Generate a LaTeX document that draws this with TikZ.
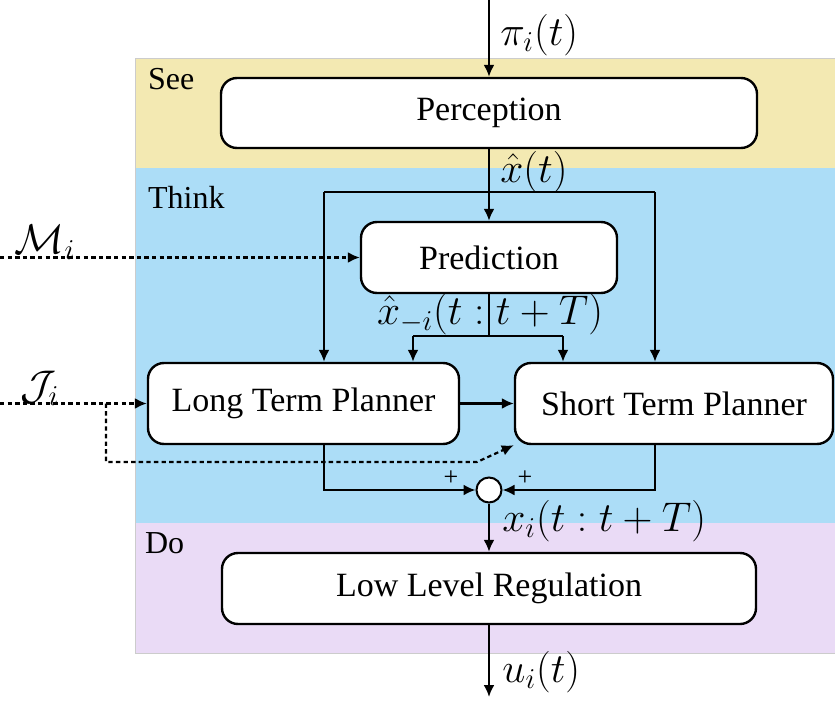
\documentclass[tikz,border=0pt]{standalone}
\usepackage{amsmath}
\usepackage[no-math]{fontspec}
\setmainfont{Liberation Serif}
\usetikzlibrary{arrows.meta, positioning}
\definecolor{seecol}{RGB}{243,233,178}
\definecolor{thinkcol}{RGB}{172,221,247}
\definecolor{docol}{RGB}{234,219,246}
\tikzstyle{block} = [draw=black, fill=white, rounded corners=8pt, line width=1.2pt, inner sep=0,
                     font=\fontsize{17}{20}\selectfont]
\tikzstyle{summer} = [circle, draw=black, fill=white, line width=1pt, minimum size=12.5pt, inner sep=0]
\tikzstyle{wire} = [line width=1.1pt]
\tikzstyle{sig} = [line width=1.1pt, -{Latex[length=6pt,width=5.5pt]}]
\tikzstyle{dots} = [line width=1.1pt, dash pattern=on 2.2pt off 1.6pt, -{Latex[length=6pt,width=5.5pt]}]
\tikzstyle{lab} = [inner sep=1pt, font=\fontsize{20}{24}\selectfont]
\tikzstyle{zone} = [anchor=west, font=\fontsize{16}{19}\selectfont]

\begin{document}
\begin{tikzpicture}[x=0.5pt, y=-0.5pt]
				\useasboundingbox (0, 0) rectangle (835, 701);

				% the three layers
				\fill [seecol] (135, 58) rectangle (835, 168);
				\fill [thinkcol] (135, 168) rectangle (835, 523);
				\fill [docol] (135, 523) rectangle (835, 653);
				\draw [gray!40, line width=0.4pt] (835, 58) -- (135, 58) -- (135, 653) -- (835, 653);
				\node (See) [zone] at (141, 79) {See};
				\node (Think) [zone] at (141, 197) {Think};
				\node (Do) [zone] at (138, 543) {Do};

				% see
				\coordinate (In) at (489, 0);
				\node (Perc) [block, minimum width=268pt, minimum height=35pt] at (489, 113) {Perception};
				\draw [sig] (In) -- (Perc);
				\node (PiLab) [lab, anchor=west] at (498, 35) {$\pi_i(t)$};

				% think
				\node (Pred) [block, minimum width=128pt, minimum height=35.5pt] at (489, 257.5) {Prediction};
				\draw [sig] (Perc) -- (Pred);
				\node (XLab) [lab, anchor=west] at (498, 172) {$\hat{x}(t)$};

				\coordinate (SplitL) at (324, 192);
				\coordinate (SplitR) at (655, 192);
				\draw [wire] (SplitL) -- (SplitR);

				\coordinate (MIn) at (0, 257.5);
				\draw [dots] (MIn) -- (Pred.west);
				\node (MLab) [lab] at (45, 242) {$\mathcal{M}_i$};

				\node (LTP) [block, minimum width=155.5pt, minimum height=40.5pt] at (303.5, 403.5) {Long Term Planner};
				\node (STP) [block, minimum width=159pt, minimum height=40.5pt] at (674, 403.5) {Short Term Planner};
				\draw [sig] (SplitL) -- (SplitL |- LTP.north);
				\draw [sig] (SplitR) -- (SplitR |- STP.north);

				\coordinate (Branch) at (489, 336);
				\coordinate (BranchL) at (413, 336);
				\coordinate (BranchR) at (563, 336);
				\draw [wire] (Pred) -- (Branch);
				\draw [wire] (BranchL) -- (BranchR);
				\draw [sig] (BranchL) -- (BranchL |- LTP.north);
				\draw [sig] (BranchR) -- (BranchR |- STP.north);
				\node (XmLab) [lab] at (490, 314) {$\hat{x}_{-i}(t:t+T)$};

				\draw [sig] (LTP) -- (STP);

				\coordinate (JIn) at (0, 403.5);
				\coordinate (JSplit) at (106, 403.5);
				\coordinate (JBend) at (477, 462);
				\draw [dots] (JIn) -- (LTP.west);
				\draw [dots] (JSplit) |- (JBend) -- (STP.south west);
				\node (JLab) [lab] at (40, 388) {$\mathcal{J}_i$};

				\node (Sum) [summer] at (489, 490) {};
				\draw [sig] (SplitL |- LTP.south) |- (Sum.west);
				\draw [sig] (SplitR |- STP.south) |- (Sum.east);
				\node (PlusL) [font=\fontsize{13}{15}\selectfont] at (451, 478) {+};
				\node (PlusR) [font=\fontsize{13}{15}\selectfont] at (525, 478) {+};

				% do
				\node (LLR) [block, minimum width=267pt, minimum height=35.5pt] at (489, 588.5) {Low Level Regulation};
				\draw [sig] (Sum) -- (LLR);
				\node (XiLab) [lab, anchor=west] at (500, 521) {$x_i(t:t+T)$};

				\coordinate (Out) at (489, 697);
				\draw [sig] (LLR) -- (Out);
				\node (ULab) [lab, anchor=west] at (500, 672) {$u_i(t)$};
			\end{tikzpicture}
\end{document}
